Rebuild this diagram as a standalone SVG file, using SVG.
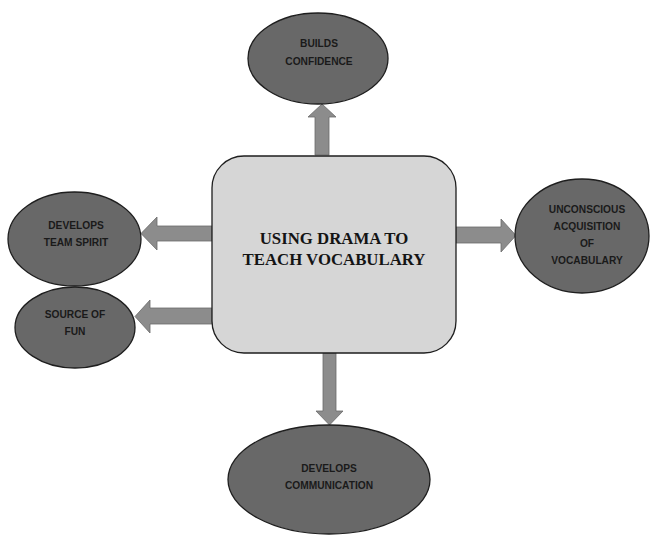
<svg xmlns="http://www.w3.org/2000/svg" width="654" height="536" viewBox="0 0 654 536">
<style>
.bg{fill:#ffffff}
.oval{fill:#686868;stroke:#1e1e1e;stroke-width:1.3}
.box{fill:#d6d6d6;stroke:#1e1e1e;stroke-width:1.3}
.arr{fill:#8c8c8c;stroke:#6a6a6a;stroke-width:0.8}
.lbl{font-family:"Liberation Sans",Arial,sans-serif;font-weight:bold;font-size:10.2px;fill:#1a1a1a;text-anchor:middle}
.main{font-family:"Liberation Serif","Times New Roman",serif;font-weight:bold;font-size:16.8px;fill:#141414;text-anchor:middle}
</style>
<rect class="bg" x="0" y="0" width="654" height="536"/>
<g id="connectors">
  <polygon class="arr" points="315,155 315,117 308,117 322,104 336,117 329,117 329,155"/>
  <polygon class="arr" points="212,226 157,226 157,217 141,233.5 157,250 157,241 212,241"/>
  <polygon class="arr" points="212,308 150,308 150,300 135,316.5 150,333 150,324 212,324"/>
  <polygon class="arr" points="456,227 501,227 501,219 516,235.5 501,252 501,243 456,243"/>
  <polygon class="arr" points="323,353 323,411 316,411 329.5,425 343,411 336,411 336,353"/>
</g>
<g id="center">
  <rect class="box" x="212" y="156" width="244" height="197" rx="32" ry="32"/>
  <text class="main" x="334" y="244">USING DRAMA TO</text>
  <text class="main" x="334" y="265">TEACH VOCABULARY</text>
</g>
<g id="builds-confidence">
  <ellipse class="oval" cx="318" cy="58.5" rx="70" ry="45.5"/>
  <text class="lbl" x="319" y="47">BUILDS</text>
  <text class="lbl" x="319" y="65">CONFIDENCE</text>
</g>
<g id="team-spirit">
  <ellipse class="oval" cx="74.5" cy="239" rx="66.5" ry="47"/>
  <text class="lbl" x="76" y="229">DEVELOPS</text>
  <text class="lbl" x="76" y="246">TEAM SPIRIT</text>
</g>
<g id="source-of-fun">
  <ellipse class="oval" cx="75" cy="327.5" rx="60" ry="40.5"/>
  <text class="lbl" x="75" y="318">SOURCE OF</text>
  <text class="lbl" x="75" y="335">FUN</text>
</g>
<g id="unconscious-acquisition">
  <ellipse class="oval" cx="582" cy="236" rx="67" ry="57"/>
  <text class="lbl" x="587" y="213">UNCONSCIOUS</text>
  <text class="lbl" x="587" y="230">ACQUISITION</text>
  <text class="lbl" x="587" y="247">OF</text>
  <text class="lbl" x="587" y="264">VOCABULARY</text>
</g>
<g id="develops-communication">
  <ellipse class="oval" cx="329" cy="479.5" rx="101" ry="54.5"/>
  <text class="lbl" x="329" y="472">DEVELOPS</text>
  <text class="lbl" x="329" y="489">COMMUNICATION</text>
</g>
</svg>
